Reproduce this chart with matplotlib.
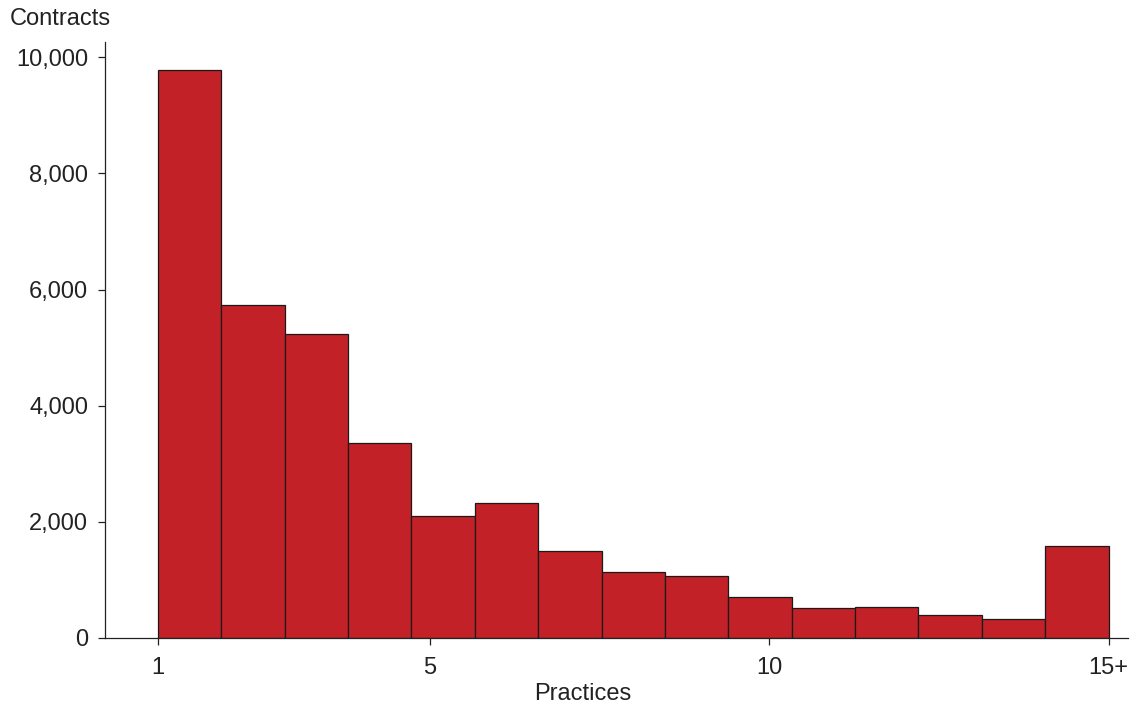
import numpy as np
import matplotlib.pyplot as plt

plt.rcParams['font.family'] = ['Liberation Sans', 'DejaVu Sans']

# contracts per number-of-practices bin (1 .. 15+)
bins = list(range(1, 16))
contracts = [9780, 5740, 5240, 3350, 2100, 2330, 1500, 1140, 1060,
             710, 520, 540, 390, 320, 1590]
xticks = [1, 5, 10, 15]
xticklabels = ['1', '5', '10', '15+']
yticks = [0, 2000, 4000, 6000, 8000, 10000]

fig = plt.figure(figsize=[11.31, 7.11], dpi=100)
ax = fig.add_axes([0.0928, 0.1027, 0.9042, 0.838])

# 15 equal bins spanning 1 -> 15 on the axis
w = (bins[-1] - bins[0]) / len(bins)
left = bins[0] + w * np.arange(len(bins))
ax.bar(left, contracts, width=w, align='edge', color='#C12127',
       edgecolor='#1a1a1a', linewidth=0.9)

ax.set_xlim(0.22, 15.28)
ax.set_ylim(0, 10260)
ax.set_xticks(xticks)
ax.set_xticklabels(xticklabels)
ax.set_yticks(yticks)
ax.set_yticklabels([f'{v:,}' for v in yticks])

for s in ['top', 'right']:
    ax.spines[s].set_visible(False)
for s in ['left', 'bottom']:
    ax.spines[s].set_linewidth(0.9)
    ax.spines[s].set_color('#222222')
ax.tick_params(direction='out', length=5, width=0.9, colors='#222222',
               labelsize=17, pad=7)
ax.tick_params(axis='x', pad=9)

fig.text(0.009, 0.973, 'Contracts', fontsize=17, color='#222222',
         ha='left', va='center')
fig.text(0.5155, 0.024, 'Practices', fontsize=17, color='#222222',
         ha='center', va='center')

fig.savefig('out.png', dpi=100)
